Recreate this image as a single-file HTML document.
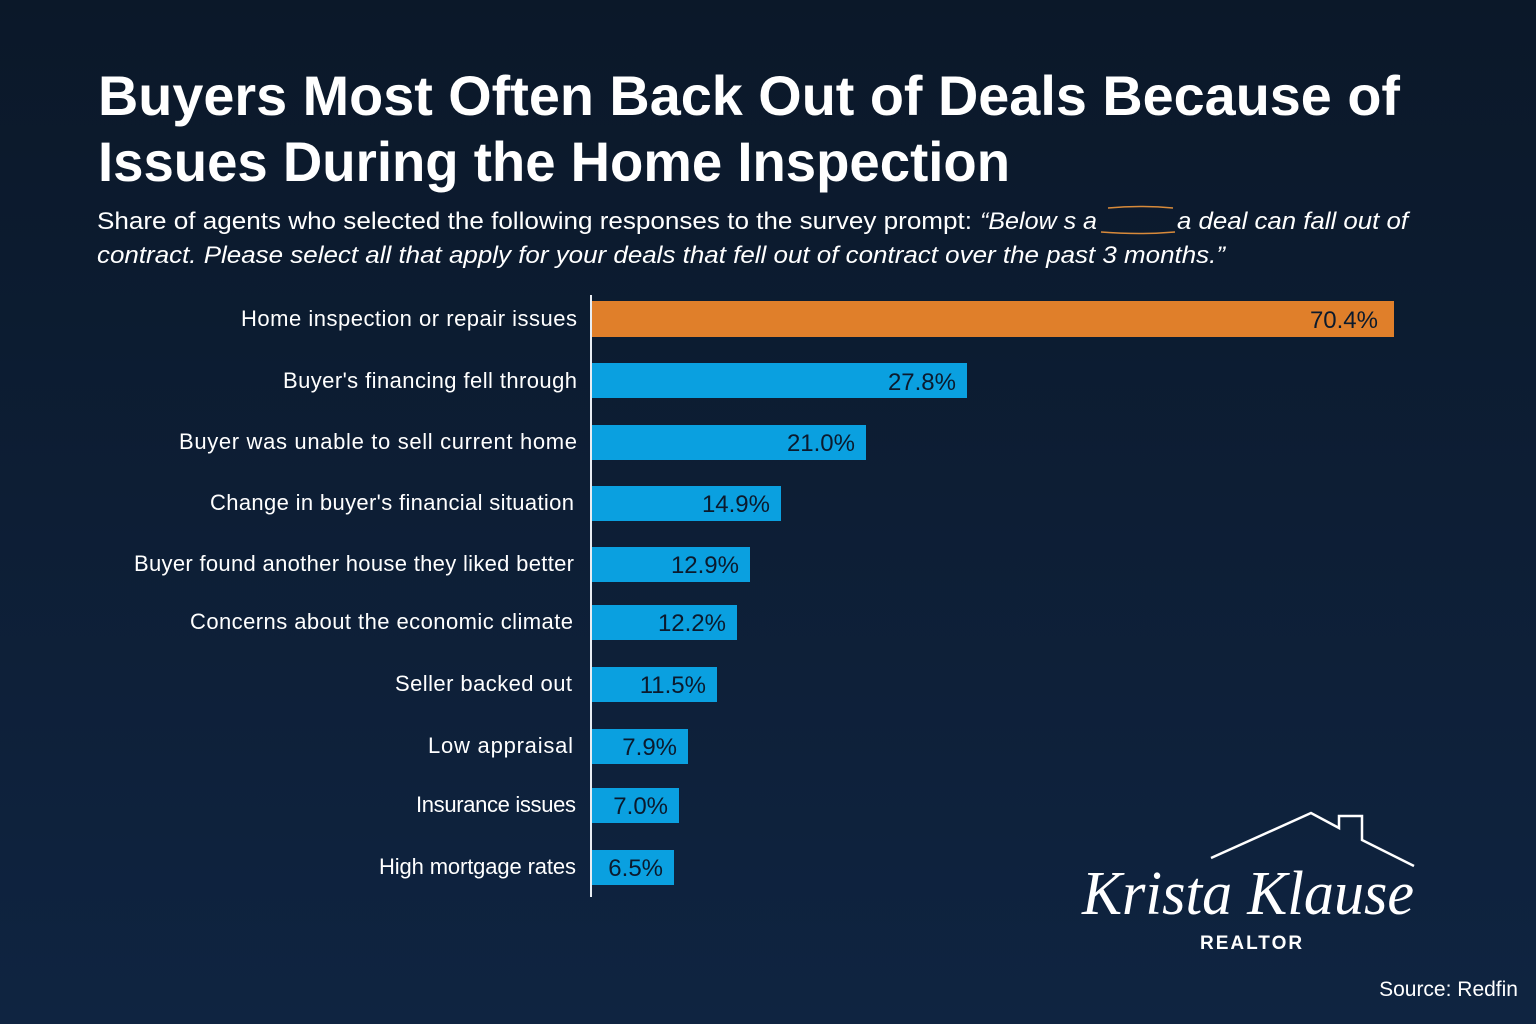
<!DOCTYPE html>
<html><head><meta charset="utf-8"><style>
html,body{margin:0;padding:0;width:1536px;height:1024px;overflow:hidden}
body{background:linear-gradient(180deg,#0b1829 0%,#0d1e35 50%,#0f2441 100%)}
svg{display:block}
</style></head><body>
<svg width="1536" height="1024" viewBox="0 0 1536 1024" xmlns="http://www.w3.org/2000/svg" font-family="Liberation Sans, Arial, sans-serif">
<text x="98" y="115" fill="#fff" font-size="56" font-weight="bold" textLength="1302" lengthAdjust="spacingAndGlyphs">Buyers Most Often Back Out of Deals Because of</text>
<text x="98" y="181" fill="#fff" font-size="56" font-weight="bold" textLength="912" lengthAdjust="spacingAndGlyphs">Issues During the Home Inspection</text>
<text x="97" y="229" fill="#fff" font-size="24" textLength="875" lengthAdjust="spacingAndGlyphs">Share of agents who selected the following responses to the survey prompt:</text>
<text x="980" y="229" fill="#fff" font-size="24" font-style="italic" textLength="117" lengthAdjust="spacingAndGlyphs">“Below s a</text>
<text x="1177" y="229" fill="#fff" font-size="24" font-style="italic" textLength="231" lengthAdjust="spacingAndGlyphs">a deal can fall out of</text>
<text x="97" y="263" fill="#fff" font-size="24" font-style="italic" textLength="1128" lengthAdjust="spacingAndGlyphs">contract. Please select all that apply for your deals that fell out of contract over the past 3 months.”</text>
<path d="M1101 232 Q1140 235 1175 232 M1108 208 Q1140 205 1173 208" stroke="#d88a3a" stroke-width="1.5" fill="none"/>
<line x1="591" y1="295" x2="591" y2="897" stroke="#e8edf3" stroke-width="2"/>
<g font-size="22" fill="#fff" text-anchor="end" lengthAdjust="spacingAndGlyphs">
<text x="577" y="326" textLength="336">Home inspection or repair issues</text>
<text x="577" y="388" textLength="294">Buyer's financing fell through</text>
<text x="577" y="449" textLength="398">Buyer was unable to sell current  home</text>
<text x="574" y="510" textLength="364">Change in buyer's financial situation</text>
<text x="574" y="571" textLength="440">Buyer found another house they liked better</text>
<text x="573" y="629" textLength="383">Concerns about the economic climate</text>
<text x="572" y="691" textLength="177">Seller backed out</text>
<text x="573" y="753" textLength="145">Low appraisal</text>
<text x="576" y="812" textLength="160">Insurance issues</text>
<text x="576" y="874" textLength="197">High mortgage rates</text>
</g>
<rect x="592" y="301" width="802" height="36" fill="#e07f2a"/>
<g fill="#0aa0e0">
<rect x="592" y="363" width="375" height="35"/>
<rect x="592" y="425" width="274" height="35"/>
<rect x="592" y="486" width="189" height="35"/>
<rect x="592" y="547" width="158" height="35"/>
<rect x="592" y="605" width="145" height="35"/>
<rect x="592" y="667" width="125" height="35"/>
<rect x="592" y="729" width="96" height="35"/>
<rect x="592" y="788" width="87" height="35"/>
<rect x="592" y="850" width="82" height="35"/>
</g>
<g font-size="24" fill="#0b1a2d" text-anchor="end">
<text x="1378" y="328">70.4%</text>
<text x="956" y="390">27.8%</text>
<text x="855" y="451">21.0%</text>
<text x="770" y="512">14.9%</text>
<text x="739" y="573">12.9%</text>
<text x="726" y="631">12.2%</text>
<text x="706" y="693">11.5%</text>
<text x="677" y="755">7.9%</text>
<text x="668" y="814">7.0%</text>
<text x="663" y="876">6.5%</text>
</g>
<path d="M1211 858 L1311 813 L1339 828 L1339 816 L1362 816 L1362 840 L1414 866" stroke="#fff" stroke-width="2.5" fill="none"/>
<text x="1082" y="914" fill="#fff" font-size="62" font-family="Liberation Serif, serif" font-style="italic" textLength="332" lengthAdjust="spacingAndGlyphs">Krista Klause</text>
<text x="1200" y="949" fill="#fff" font-size="19" font-weight="bold" letter-spacing="2">REALTOR</text>
<text x="1518" y="996" fill="#fff" font-size="21" text-anchor="end">Source: Redfin</text>
</svg>
</body></html>
